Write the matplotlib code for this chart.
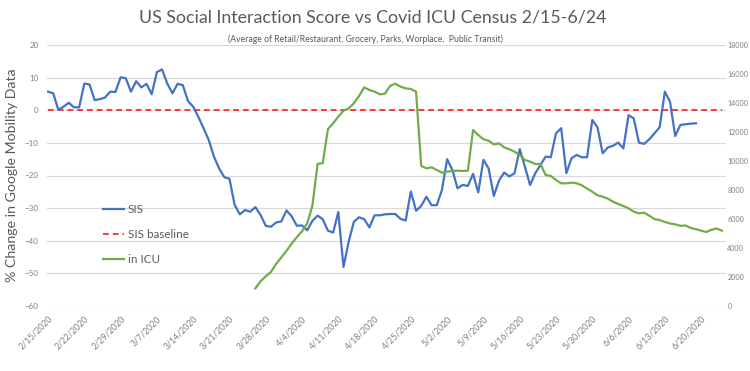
import matplotlib
matplotlib.use("Agg")
import matplotlib.pyplot as plt
import pandas as pd

plt.rcParams['font.family'] = ['Lato', 'DejaVu Sans']

title = "US Social Interaction Score vs Covid ICU Census 2/15-6/24"
subtitle = "(Average of Retail/Restaurant, Grocery, Parks, Worplace,  Public Transit)"
ylabel = "% Change in Google Mobility Data"

sis_start = "2020-02-15"
sis_values = [
    5.7, 5.2, 0.1, 1.1, 2.3, 0.9, 0.9, 8.2, 7.9, 3.1,
    3.4, 3.9, 5.7, 5.6, 10.1, 9.8, 5.7, 8.9, 7.0, 8.1,
    4.9, 11.7, 12.5, 8.2, 5.2, 8.1, 7.7, 2.8, 1.1, -2.0,
    -5.5, -9.1, -14.2, -17.8, -20.5, -21.0, -29.0, -31.9, -30.6, -31.1,
    -29.7, -32.1, -35.4, -35.7, -34.4, -34.1, -30.7, -32.5, -35.4, -35.3,
    -36.8, -33.9, -32.3, -33.4, -36.9, -37.5, -31.2, -48.0, -40.3, -34.2,
    -32.8, -33.4, -35.9, -32.2, -32.2, -31.9, -31.8, -31.8, -33.3, -33.8,
    -24.9, -30.8, -29.3, -26.5, -29.1, -29.1, -24.4, -15.0, -18.3, -23.9,
    -22.9, -23.2, -19.5, -25.2, -15.2, -17.8, -26.3, -21.6, -19.1, -20.3,
    -19.3, -11.9, -17.3, -22.9, -19.3, -16.8, -14.2, -14.4, -7.1, -5.5,
    -19.3, -14.7, -13.7, -14.4, -14.4, -3.0, -5.2, -13.2, -11.4, -10.9,
    -9.9, -11.7, -1.5, -2.5, -9.9, -10.3, -8.9, -7.1, -5.2, 5.7,
    2.6, -7.9, -4.5, -4.3, -4.1, -4.0,
]

icu_start = "2020-03-26"
icu_values = [
    1218, 1700, 2050, 2350, 2900, 3350, 3800, 4300, 4750, 5150,
    5700, 6900, 9800, 9850, 12200, 12598, 13057, 13471, 13632, 13977,
    14483, 15080, 14897, 14782, 14600, 14640, 15180, 15330, 15126, 15011,
    14966, 14782, 9655, 9494, 9563, 9379, 9195, 9264, 9310, 9333,
    9310, 9333, 12138, 11793, 11494, 11402, 11149, 11218, 10943, 10805,
    10644, 10414, 10069, 9954, 9793, 9793, 9034, 8966, 8690, 8460,
    8460, 8506, 8460, 8322, 8092, 7885, 7632, 7540, 7402, 7195,
    7034, 6897, 6736, 6506, 6391, 6437, 6230, 5990, 5931, 5793,
    5690, 5632, 5530, 5550, 5380, 5300, 5195, 5100, 5260, 5345,
    5195,
]

baseline_value = 0
range_start = "2020-02-15"
range_end = "2020-06-24"

tick_labels = ["2/15/2020", "2/22/2020", "2/29/2020", "3/7/2020", "3/14/2020",
               "3/21/2020", "3/28/2020", "4/4/2020", "4/11/2020", "4/18/2020",
               "4/25/2020", "5/2/2020", "5/9/2020", "5/16/2020", "5/23/2020",
               "5/30/2020", "6/6/2020", "6/13/2020", "6/20/2020"]

left_ticks = [20, 10, 0, -10, -20, -30, -40, -50, -60]
right_ticks = [0, 2000, 4000, 6000, 8000, 10000, 12000, 14000, 16000, 18000]

sis_dates = pd.date_range(sis_start, periods=len(sis_values), freq="D")
icu_dates = pd.date_range(icu_start, periods=len(icu_values), freq="D")
tick_dates = pd.to_datetime(tick_labels, format="%m/%d/%Y")
start = pd.Timestamp(range_start)
end = pd.Timestamp(range_end)

fig = plt.figure(figsize=(7.5, 3.71), dpi=100)
ax = fig.add_axes([47/750, 1-306/371, (726-47)/750, (306-45)/371])
ax2 = ax.twinx()

grid_c = "#D9D9D9"
text_c = "#7F7F7F"

ax.set_ylim(-60, 20)
ax.set_yticks(left_ticks)
ax.grid(axis='y', color=grid_c, linewidth=0.9)
ax.set_axisbelow(True)
ax2.set_ylim(0, 18000)
ax2.set_yticks(right_ticks)

span = pd.Timedelta(days=1)
ax.set_xlim(start - span * 0.2, end + span * 0.8)

l_sis, = ax.plot(sis_dates, sis_values, color="#4472C4", linewidth=1.6, label="SIS", zorder=3)
l_base, = ax.plot([start, end], [baseline_value, baseline_value], color="#FF2A2A",
                  linewidth=1.3, dashes=(3.2, 2.2), label="SIS baseline", zorder=2)
l_icu, = ax2.plot(icu_dates, icu_values, color="#70AD47", linewidth=1.6, label="in ICU")

ax.set_xticks(tick_dates)
ax.set_xticklabels(tick_labels, rotation=45, ha='right', va='top', rotation_mode='anchor',
                   fontsize=6.3, color=text_c)
for a in (ax, ax2):
    for s in a.spines.values():
        s.set_visible(False)
ax.tick_params(axis='both', length=0)
ax2.tick_params(axis='both', length=0)
ax.tick_params(axis='x', pad=6)
ax.tick_params(axis='y', labelsize=5.8, labelcolor=text_c, pad=6)
ax2.tick_params(axis='y', labelsize=5.1, labelcolor=text_c, pad=1)

ax.set_ylabel(ylabel, fontsize=10.2, color="#595959")
ax.yaxis.set_label_coords(-0.042, 0.5)

fig.text(0.497, 0.953, title, ha='center', va='center', fontsize=12.8, color="#595959")
fig.text(0.487, 0.893, subtitle, ha='center', va='center', fontsize=6.2, color="#595959")

leg = ax.legend(handles=[l_sis, l_base, l_icu], loc='upper left',
                bbox_to_anchor=(103/750, 1-204/371), bbox_transform=fig.transFigure,
                frameon=False, fontsize=8.4, handlelength=1.8, handletextpad=0.3,
                labelspacing=1.2, borderpad=0, borderaxespad=0)
for t in leg.get_texts():
    t.set_color("#595959")

fig.savefig("out.png", dpi=100)
